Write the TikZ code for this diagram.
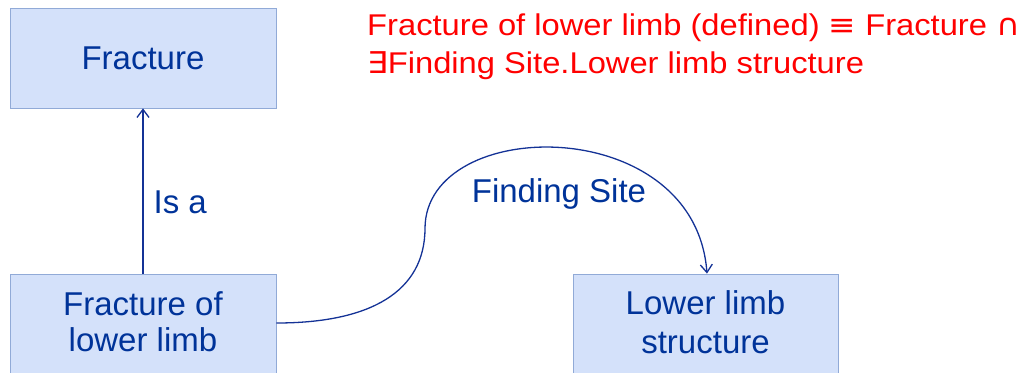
\documentclass[tikz,border=0pt]{standalone}
\usepackage{fontspec}
\setmainfont{Liberation Sans}
\newfontfamily\symfont{DejaVu Sans}
\usetikzlibrary{arrows.meta}
\definecolor{txtblue}{RGB}{0,51,153}
\definecolor{lineblue}{RGB}{20,50,150}
\definecolor{boxfill}{RGB}{212,225,250}
\definecolor{boxline}{RGB}{145,170,215}
\definecolor{defred}{RGB}{255,0,0}
\tikzset{
  box/.style={draw=boxline, line width=0.8pt, fill=boxfill, minimum width=266pt,
    text=txtblue, align=center, inner sep=0pt,
    font=\fontsize{33}{36}\selectfont},
  lbl/.style={text=txtblue, inner sep=0pt, font=\fontsize{33}{36}\selectfont},
  rel/.style={draw=lineblue, line width=1.3pt, -{Straight Barb[length=8pt,width=12pt,line width=1.3pt]}}
}
\begin{document}
\begin{tikzpicture}[x=1pt,y=-1pt]
\useasboundingbox (0,0) rectangle (1024,372);
\clip (0,0) rectangle (1024,372);
\node[box, minimum height=100pt] (frac) at (143,58) {Fracture};
\node[box, minimum height=108pt, text depth=12.6pt] (flb) at (143,328) {Fracture of\\lower limb};
\node[box, minimum height=108pt, minimum width=265pt, text depth=11pt,
  font=\fontsize{33}{39}\selectfont] (lls) at (705.5,328) {Lower limb\\structure};
\draw[rel] (flb.north) -- (frac.south) node[lbl, pos=0.43, anchor=west, xshift=10pt] (isa) {Is a};
\coordinate (bend) at (425,228);
\draw[rel] ([yshift=5pt]flb.east) .. controls (370,323) and (425,292) .. (bend)
  .. controls (426,115) and (695,112) .. ([xshift=1.5pt]lls.north);
\node[lbl, anchor=base] (fs) at (559,202) {Finding Site};
\node[anchor=north west, align=left, text=defred, inner sep=0pt,
  font=\fontsize{30}{38}\selectfont] (def) at (367,13.5)
  {\scalebox{1.09}[1]{Fracture of lower limb (defined) {\symfont ≡} Fracture {\symfont ∩}}\\\scalebox{1.09}[1]{{\symfont ∃}Finding Site.Lower limb structure}};
\end{tikzpicture}
\end{document}
